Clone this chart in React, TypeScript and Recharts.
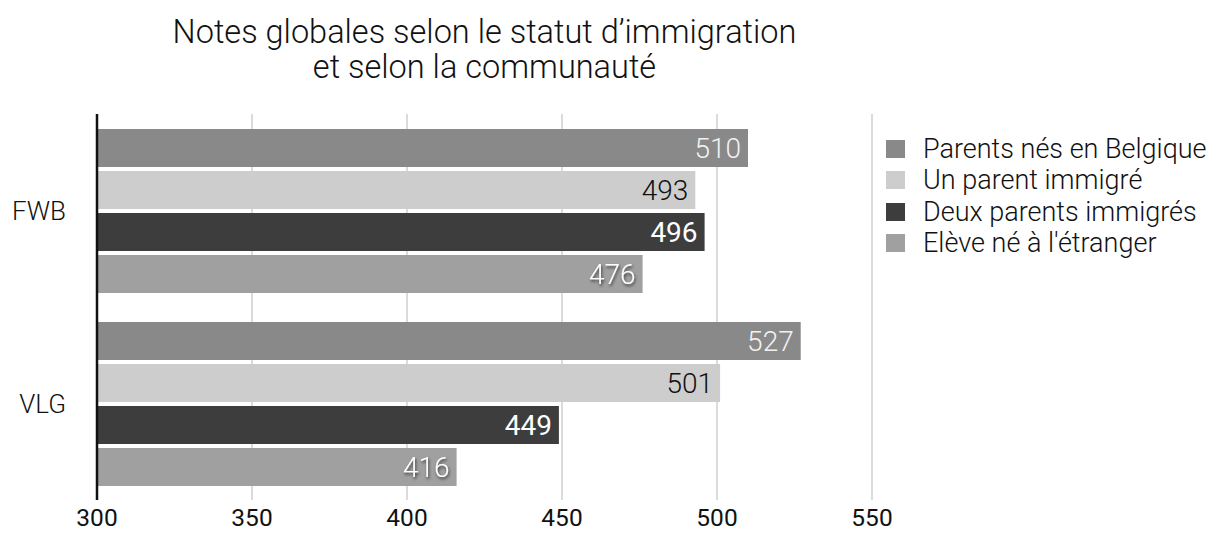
import React from "react";
import {
  BarChart,
  Bar,
  XAxis,
  YAxis,
  CartesianGrid,
  LabelList,
} from "recharts";

const communities = ["FWB", "VLG"];
const parentsBelgique = [510, 527];
const unParentImmigre = [493, 501];
const deuxParentsImmigres = [496, 449];
const eleveNeEtranger = [476, 416];
const xTicks = [300, 350, 400, 450, 500, 550];

const seriesInfo = [
  { key: "belgique", name: "Parents nés en Belgique", color: "#898989", values: parentsBelgique },
  { key: "unParent", name: "Un parent immigré", color: "#cdcdcd", values: unParentImmigre },
  { key: "deuxParents", name: "Deux parents immigrés", color: "#3d3d3d", values: deuxParentsImmigres },
  { key: "etranger", name: "Elève né à l'étranger", color: "#a0a0a0", values: eleveNeEtranger },
];

const data = communities.map((c, i) => {
  const row: Record<string, string | number> = { community: c };
  seriesInfo.forEach((s) => {
    row[s.key] = s.values[i];
  });
  return row;
});

const FONT = "Roboto, 'Liberation Sans', sans-serif";

const labelStyles: Record<string, { fill: string; fontWeight: number; filter?: string }> = {
  belgique: { fill: "#f2f2f2", fontWeight: 300 },
  unParent: { fill: "#111111", fontWeight: 300 },
  deuxParents: { fill: "#ffffff", fontWeight: 400 },
  etranger: { fill: "#ffffff", fontWeight: 300, filter: "url(#labelShadow)" },
};

function SeriesLegend() {
  return (
    <div
      style={{
        position: "absolute",
        left: 878,
        top: 125,
        fontFamily: FONT,
        fontWeight: 300,
        fontSize: 27,
        color: "#111",
      }}
    >
      {seriesInfo.map((s) => (
        <div key={s.key} style={{ display: "flex", alignItems: "center", height: 31.5 }}>
          <span
            style={{
              display: "inline-block",
              width: 19,
              height: 18,
              background: s.color,
              marginRight: 18,
            }}
          />
          <span>{s.name}</span>
        </div>
      ))}
    </div>
  );
}

export default function App() {
  return (
    <div style={{ position: "relative", width: 1212, height: 525, fontFamily: FONT }}>
      <svg width={0} height={0} style={{ position: "absolute" }}>
        <defs>
          <filter id="labelShadow" x="-20%" y="-30%" width="150%" height="170%">
            <feDropShadow dx={1} dy={2} stdDeviation={1.6} floodColor="#000" floodOpacity={0.65} />
          </filter>
        </defs>
      </svg>
      <div
        style={{
          position: "absolute",
          left: 89 - 300,
          width: 775 + 600,
          top: 7,
          textAlign: "center",
          fontSize: 32.5,
          fontWeight: 300,
          lineHeight: "35px",
          color: "#111",
        }}
      >
        Notes globales selon le statut d’immigration
        <br />
        et selon la communauté
      </div>
      <BarChart
        width={1212}
        height={525}
        data={data}
        layout="vertical"
        margin={{ top: 106, right: 348, bottom: 0, left: 0 }}
        barSize={38}
        barGap={4}
        style={{ overflow: "visible" }}
      >
        <CartesianGrid horizontal={false} stroke="#c8c8c8" strokeWidth={1.3} />
        <XAxis
          type="number"
          domain={[300, 550]}
          ticks={xTicks}
          axisLine={false}
          tickLine={false}
          tickSize={0}
          tickMargin={9}
          height={33}
          tick={{ fill: "#111", fontSize: 24.5, fontFamily: FONT }}
          allowDataOverflow
        />
        <YAxis
          type="category"
          dataKey="community"
          width={89}
          axisLine={{ stroke: "#111", strokeWidth: 2.5 }}
          tickLine={false}
          tickSize={0}
          tickMargin={31}
          tick={{ fill: "#111", fontSize: 26, fontFamily: FONT, fontWeight: 300 }}
        />
        {seriesInfo.map((s) => (
          <Bar
            key={s.key}
            dataKey={s.key}
            name={s.name}
            fill={s.color}
            isAnimationActive={false}
          >
            <LabelList
              dataKey={s.key}
              position="insideRight"
              offset={7}
              fontSize={28}
              fontFamily={FONT}
              fill={labelStyles[s.key].fill}
              fontWeight={labelStyles[s.key].fontWeight}
              style={labelStyles[s.key].filter ? { filter: labelStyles[s.key].filter } : undefined}
            />
          </Bar>
        ))}
      </BarChart>
      <SeriesLegend />
    </div>
  );
}
